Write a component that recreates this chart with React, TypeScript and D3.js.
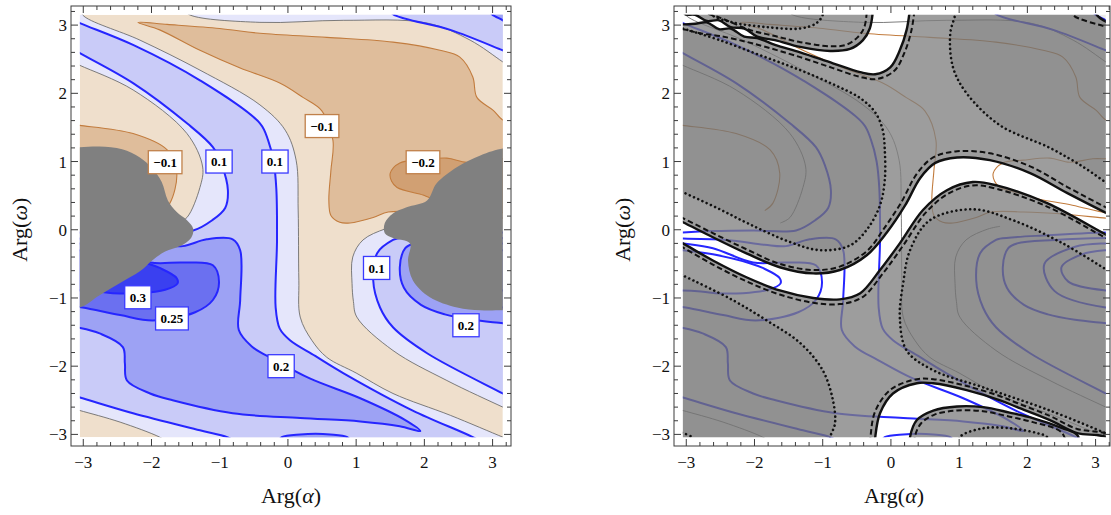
import React from 'react';
import * as d3 from 'd3';

type Pt = [number, number];

// ---------------- axes / ranges ----------------
const X_TICKS = [-3, -2, -1, 0, 1, 2, 3];
const Y_TICKS = [-3, -2, -1, 0, 1, 2, 3];
const DATA_X: Pt = [-3.05, 3.15];
const DATA_Y: Pt = [-3.04, 3.15];
const FRAME_X: Pt = [-3.18, 3.27];
const FRAME_Y: Pt = [-3.17, 3.28];

// ---------------- contour levels & band colours ----------------
const LEVELS = [-0.2, -0.1, 0, 0.1, 0.2, 0.25, 0.3];
const BAND_COLORS = ['#d1a073', '#dfbd9b', '#efdfcc', '#e5e6fb', '#c9cbf8', '#9da2f4', '#6b70f0', '#3a40f0'];

// ---------------- contour lines (Arg α, Arg ω) ----------------
const G1: Pt[] = [[-3.03,3.25],[-3.01,3.15],[-2.17,2.78],[-1.29,2.34],[-0.41,1.83],[-0.04,1.46],[0.12,1.02],[0.15,0.29],[0.16,-0.74],[0.18,-1.28],[0.35,-1.62],[0.57,-1.87],[1.0,-2.1],[1.54,-2.40],[2.38,-2.72],[3.15,-3.04],[3.3,-3.1]];
const B1: Pt[] = [[-3.2,3.1],[-3.05,3.03],[-2.27,2.71],[-1.29,2.19],[-0.41,1.56],[-0.29,1.31],[-0.21,1.0],[-0.17,0.6],[-0.16,-0.15],[-0.18,-1.14],[-0.12,-1.45],[0.03,-1.62],[0.40,-1.85],[0.81,-2.10],[1.83,-2.65],[2.71,-3.04],[2.85,-3.12]];
const B2: Pt[] = [[-3.2,2.68],[-3.05,2.59],[-2.27,2.15],[-1.48,1.56],[-1.10,1.21],[-0.97,0.95],[-0.88,0.58],[-0.92,0.32],[-1.11,0.14],[-1.39,-0.01],[-2.02,-0.01],[-2.61,-0.02],[-3.05,-0.04],[-3.2,-0.05]];
const G2: Pt[] = [[-3.2,2.48],[-3.05,2.41],[-2.27,2.05],[-1.48,1.41],[-1.25,0.92],[-1.29,0.62],[-1.48,0.18],[-1.62,0.1]];
const N1: Pt[] = [[-3.2,1.55],[-3.05,1.53],[-2.27,1.41],[-1.77,1.17],[-1.63,0.83],[-1.73,0.39],[-1.85,0.28]];
const N2: Pt[] = [[3.3,1.6],[3.15,1.61],[3.01,1.75],[2.77,1.94],[2.71,2.24],[2.52,2.53],[2.23,2.63],[1.54,2.75],[0.57,2.82],[-0.41,2.88],[-1.00,2.95],[-1.77,3.01],[-2.20,3.04],[-1.88,2.93],[-1.29,2.63],[-0.70,2.37],[-0.12,2.15],[0.22,1.94],[0.50,1.74],[0.66,1.31],[0.63,0.87],[0.60,0.43],[0.63,0.21],[0.76,0.11],[0.91,0.10],[1.25,0.18],[1.47,0.26],[1.94,0.26],[2.52,0.23],[3.15,0.17],[3.3,0.16]];
const N3: Pt[] = [[3.3,1.04],[3.15,1.04],[2.96,1.04],[2.62,0.99],[2.33,1.05],[1.94,1.02],[1.64,0.98],[1.50,0.83],[1.52,0.71],[1.60,0.62],[1.98,0.51],[2.08,0.47],[2.66,0.36],[3.15,0.25],[3.3,0.24]];
const G3: Pt[] = [[-1.55,3.25],[-1.44,3.15],[-0.41,3.04],[0.81,3.07],[2.04,3.03],[2.67,2.78],[3.15,2.46],[3.3,2.36]];
const B3: Pt[] = [[1.48,3.25],[1.54,3.16],[2.38,2.93],[3.15,2.63],[3.3,2.57]];
const B4: Pt[] = [[2.93,3.25],[2.99,3.16],[3.15,3.07],[3.3,2.98]];
const G4: Pt[] = [[1.6,0.05],[1.42,0.01],[1.10,-0.15],[0.95,-0.40],[0.94,-0.79],[0.96,-1.05],[1.01,-1.28],[1.54,-1.77],[2.33,-2.21],[3.15,-2.60],[3.3,-2.67]];
const B5: Pt[] = [[3.3,-0.04],[3.15,-0.04],[2.3,-0.08],[1.6,-0.13],[1.54,-0.15],[1.31,-0.34],[1.25,-0.74],[1.35,-1.14],[1.54,-1.43],[2.04,-1.81],[3.15,-2.40],[3.3,-2.48]];
const B6: Pt[] = [[3.3,-0.12],[3.15,-0.12],[2.4,-0.15],[1.85,-0.2],[1.72,-0.27],[1.64,-0.55],[1.70,-0.85],[1.95,-1.10],[2.30,-1.24],[2.7,-1.32],[3.15,-1.37],[3.3,-1.39]];
const B7: Pt[] = [[-3.2,-0.18],[-3.05,-0.20],[-2.61,-0.27],[-2.02,-0.48],[-1.54,-0.48],[-1.10,-0.52],[-1.01,-0.77],[-1.10,-1.03],[-1.36,-1.21],[-1.98,-1.33],[-2.46,-1.25],[-3.01,-1.14],[-3.2,-1.12]];
const B8: Pt[] = [[-3.2,-0.13],[-3.05,-0.13],[-2.4,-0.15],[-1.85,-0.22],[-1.54,-0.24],[-1.19,-0.14],[-0.81,-0.14],[-0.70,-0.30],[-0.70,-1.03],[-0.72,-1.47],[-0.53,-1.71],[-0.19,-1.91],[0.32,-2.18],[1.06,-2.47],[1.72,-2.79],[1.94,-2.95],[1.64,-2.88],[1.06,-2.81],[0.18,-2.76],[-0.81,-2.69],[-1.69,-2.50],[-2.02,-2.40],[-2.36,-2.21],[-2.39,-1.96],[-2.42,-1.72],[-2.76,-1.52],[-3.05,-1.44],[-3.2,-1.42]];
const B9: Pt[] = [[-3.2,-0.29],[-3.05,-0.30],[-2.61,-0.36],[-2.07,-0.49],[-1.88,-0.56],[-1.63,-0.71],[-1.62,-0.79],[-1.80,-0.88],[-2.17,-0.93],[-2.57,-0.93],[-2.83,-0.90],[-3.05,-0.89],[-3.2,-0.89]];
const B10: Pt[] = [[-3.2,-2.42],[-3.05,-2.46],[-2.27,-2.69],[-1.29,-2.94],[-0.89,-3.04],[-0.75,-3.12]];
const G5: Pt[] = [[-3.2,-2.61],[-3.05,-2.65],[-2.46,-2.82],[-1.88,-3.04],[-1.75,-3.12]];
const B11: Pt[] = [[-0.15,-3.12],[-0.09,-3.04],[0.18,-3.0],[0.62,-3.0],[0.87,-3.04],[0.93,-3.12]];
const B9R: Pt[] = [[3.3,-0.30],[3.15,-0.30],[2.8,-0.36],[2.5,-0.55],[2.6,-0.76],[3.15,-0.89],[3.3,-0.89]];
const B7R: Pt[] = [[3.3,-0.20],[3.15,-0.20],[2.7,-0.25],[2.25,-0.5],[2.4,-0.9],[3.15,-1.14],[3.3,-1.14]];

const CONTOURS: { level: number; pts: Pt[] }[] = [
  { level: 0, pts: G1 }, { level: 0.1, pts: B1 }, { level: 0.1, pts: B2 }, { level: 0, pts: G2 },
  { level: -0.1, pts: N1 }, { level: -0.1, pts: N2 }, { level: -0.2, pts: N3 }, { level: 0, pts: G3 },
  { level: 0.1, pts: B3 }, { level: 0.2, pts: B4 }, { level: 0, pts: G4 }, { level: 0.1, pts: B5 },
  { level: 0.2, pts: B6 }, { level: 0.25, pts: B7 }, { level: 0.2, pts: B8 }, { level: 0.3, pts: B9 },
  { level: 0.1, pts: B10 }, { level: 0, pts: G5 }, { level: 0.2, pts: B11 },
  { level: 0.3, pts: B9R }, { level: 0.25, pts: B7R },
];

// masked (gray) regions
const BLOB_L: Pt[] = [[-3.3,1.21],[-3.05,1.21],[-2.76,1.22],[-2.43,1.18],[-2.17,1.06],[-1.99,0.90],[-1.85,0.70],[-1.76,0.43],[-1.63,0.26],[-1.48,0.14],[-1.39,0.02],[-1.42,-0.12],[-1.58,-0.24],[-1.80,-0.32],[-1.99,-0.45],[-2.17,-0.61],[-2.46,-0.78],[-2.76,-0.96],[-3.05,-1.14],[-3.3,-1.14]];
const BLOB_R: Pt[] = [[3.3,1.19],[3.15,1.19],[2.82,1.09],[2.48,0.92],[2.18,0.68],[2.04,0.43],[1.74,0.33],[1.54,0.24],[1.42,0.10],[1.42,-0.05],[1.54,-0.12],[1.79,-0.20],[1.76,-0.45],[1.83,-0.74],[2.08,-0.99],[2.48,-1.14],[2.82,-1.18],[3.15,-1.18],[3.3,-1.18]];

// contour labels
const CONTOUR_LABELS = [
  { a: -1.80, w: 0.99, level: -0.1 }, { a: -1.01, w: 1.0, level: 0.1 }, { a: -0.19, w: 1.0, level: 0.1 },
  { a: 0.50, w: 1.52, level: -0.1 }, { a: 1.98, w: 0.99, level: -0.2 }, { a: 1.30, w: -0.56, level: 0.1 },
  { a: -2.20, w: -0.99, level: 0.3 }, { a: -1.70, w: -1.30, level: 0.25 }, { a: -0.10, w: -2.0, level: 0.2 },
  { a: 2.61, w: -1.40, level: 0.2 },
];

// ---------------- right panel curves ----------------
const T_UP: Pt[] = [[-3.02,3.25],[-3.02,3.16],[-2.87,3.15],[-2.70,3.06],[-2.52,3.07],[-2.35,2.97],[-2.15,2.95],[-1.96,2.83],[-1.70,2.78],[-1.33,2.68],[-0.89,2.62],[-0.60,2.65],[-0.41,2.78],[-0.31,2.95],[-0.26,3.25]];
const T_LO: Pt[] = [[-3.2,3.02],[-3.05,3.01],[-2.87,3.02],[-2.70,3.04],[-2.52,2.94],[-2.35,2.95],[-2.15,2.83],[-1.96,2.81],[-1.70,2.71],[-1.33,2.60],[-0.85,2.44],[-0.45,2.31],[-0.23,2.28],[-0.01,2.38],[0.13,2.63],[0.23,2.93],[0.28,3.25]];
const T_UP_DASH: Pt[] = [[-2.80,3.20],[-2.51,3.11],[-2.07,2.93],[-1.70,2.84],[-1.33,2.75],[-0.89,2.69],[-0.66,2.71],[-0.49,2.82],[-0.39,2.97],[-0.35,3.25]];
const T_LO_DASH: Pt[] = [[-3.2,2.95],[-3.05,2.94],[-2.80,2.88],[-2.51,2.84],[-2.02,2.73],[-1.33,2.53],[-0.85,2.37],[-0.45,2.24],[-0.21,2.21],[0.05,2.33],[0.20,2.60],[0.30,2.92],[0.35,3.25]];
const M_UP: Pt[] = [[-3.2,0.18],[-3.05,0.11],[-2.61,-0.11],[-2.11,-0.35],[-1.63,-0.55],[-1.14,-0.64],[-0.75,-0.59],[-0.35,-0.37],[-0.06,-0.04],[0.21,0.36],[0.43,0.76],[0.65,0.98],[0.97,1.06],[1.45,1.02],[2.04,0.83],[2.58,0.54],[3.17,0.24],[3.3,0.18]];
const M_LO: Pt[] = [[-3.2,-0.12],[-3.05,-0.20],[-2.61,-0.45],[-2.11,-0.70],[-1.63,-0.89],[-1.14,-1.00],[-0.75,-1.02],[-0.45,-0.93],[-0.16,-0.59],[0.13,-0.20],[0.47,0.29],[0.82,0.58],[1.20,0.70],[1.55,0.65],[2.29,0.39],[3.17,-0.08],[3.3,-0.14]];
const M_UP_DASH: Pt[] = [[-3.2,0.24],[-3.05,0.17],[-2.61,-0.05],[-2.11,-0.29],[-1.63,-0.50],[-1.14,-0.59],[-0.75,-0.54],[-0.35,-0.31],[-0.10,0.02],[0.15,0.40],[0.38,0.82],[0.62,1.06],[0.97,1.15],[1.45,1.12],[2.04,0.93],[2.58,0.63],[3.17,0.32],[3.3,0.26]];
const M_LO_DASH: Pt[] = [[-3.2,-0.18],[-3.05,-0.26],[-2.61,-0.51],[-2.11,-0.76],[-1.63,-0.95],[-1.14,-1.07],[-0.75,-1.09],[-0.42,-0.99],[-0.11,-0.63],[0.18,-0.23],[0.51,0.25],[0.84,0.53],[1.20,0.65],[1.55,0.60],[2.29,0.34],[3.17,-0.13],[3.3,-0.19]];
const B_OUT: Pt[] = [[-0.24,-3.25],[-0.23,-3.04],[-0.16,-2.69],[0.03,-2.40],[0.38,-2.25],[0.62,-2.25],[1.11,-2.35],[1.60,-2.50],[1.85,-2.60],[2.33,-2.79],[2.73,-2.98],[3.02,-3.01],[3.17,-3.04],[3.3,-3.1]];
const B_IN: Pt[] = [[0.28,-3.25],[0.28,-3.04],[0.38,-2.79],[0.62,-2.65],[0.97,-2.59],[1.35,-2.60],[1.74,-2.68],[2.08,-2.76],[2.52,-2.91],[2.73,-3.01],[2.8,-3.25]];
const B_OUT_DASH: Pt[] = [[-0.31,-3.25],[-0.30,-3.04],[-0.23,-2.66],[0.0,-2.34],[0.38,-2.19],[0.62,-2.19],[1.11,-2.29],[1.60,-2.44],[1.85,-2.54],[2.33,-2.73],[2.73,-2.92],[3.02,-2.96],[3.17,-2.99],[3.3,-3.05]];
const B_IN_DASH: Pt[] = [[0.35,-3.25],[0.35,-3.04],[0.44,-2.84],[0.64,-2.71],[0.97,-2.65],[1.35,-2.66],[1.74,-2.74],[2.08,-2.82],[2.5,-2.97],[2.6,-3.25]];
const TR_SOLID: Pt[] = [[3.02,3.25],[3.02,3.15],[3.17,3.04],[3.3,2.99]];
const TR_DASH: Pt[] = [[2.67,3.25],[2.67,3.15],[3.17,2.97],[3.3,2.92]];
const D1: Pt[] = [[-2.62,3.25],[-2.62,3.15],[-2.32,3.04],[-1.82,2.97],[-1.33,2.95],[-1.09,3.03],[-1.0,3.15],[-1.0,3.25]];
const D2: Pt[] = [[-3.05,2.95],[-2.51,2.78],[-1.92,2.56],[-1.33,2.34],[-0.82,2.12],[-0.45,1.93],[-0.23,1.72],[-0.12,1.46],[-0.09,1.17],[-0.09,0.73],[-0.16,0.36],[-0.34,0.02],[-0.60,-0.23],[-1.04,-0.30],[-1.48,-0.18],[-2.07,0.08],[-2.55,0.32],[-3.05,0.55]];
const D3: Pt[] = [[0.94,3.25],[0.94,3.15],[0.87,2.88],[0.91,2.38],[1.11,2.0],[1.60,1.53],[2.33,1.20],[2.82,0.92],[3.17,0.68],[3.3,0.6]];
const D4: Pt[] = [[-3.2,-0.6],[-3.05,-0.67],[-2.32,-1.03],[-1.82,-1.33],[-1.33,-1.66],[-1.0,-2.06],[-0.85,-2.50],[-0.82,-2.84],[-0.89,-3.04],[-0.9,-3.2]];
const D7: Pt[] = [[3.3,-0.66],[3.17,-0.59],[2.52,-0.20],[1.79,0.14],[1.20,0.30],[0.57,0.14],[0.28,-0.30],[0.18,-0.78],[0.13,-1.28],[0.23,-1.77],[0.62,-2.06],[1.35,-2.31],[2.33,-2.65],[3.17,-2.99],[3.3,-3.04]];
const D8: Pt[] = [[1.0,-3.2],[1.01,-3.04],[1.35,-2.91],[1.74,-2.91],[2.14,-2.98],[2.29,-3.04],[2.3,-3.2]];
const D9: Pt[] = [[-3.2,-2.95],[-3.05,-2.98],[-2.92,-3.04],[-2.9,-3.1]];

// ---------------- helpers ----------------
type Part = { kind: 'c'; p: Pt } | { kind: 'l'; pts: Pt[]; rev: boolean };
const C = (a: number, w: number): Part => ({ kind: 'c', p: [a, w] });
const L = (pts: Pt[]): Part => ({ kind: 'l', pts, rev: false });
const R = (pts: Pt[]): Part => ({ kind: 'l', pts, rev: true });

// band index: 0 (< -0.2) ... 7 (> 0.3)
const FILLS: { band: number; parts: Part[] }[] = [
  { band: 1, parts: [L(N1), C(-3.4, 0.28), C(-3.4, 1.55)] },
  { band: 1, parts: [L(N2), C(3.4, 0.16), C(3.4, 1.6)] },
  { band: 0, parts: [L(N3), C(3.4, 0.24), C(3.4, 1.04)] },
  { band: 3, parts: [C(-3.4, 3.4), L(G1), C(3.4, -3.4), R(G5), C(-3.4, -2.61), C(-3.4, 0.1), R(G2), C(-3.4, 2.48)] },
  { band: 3, parts: [L(G4), C(3.4, -2.67), C(3.4, 0.05)] },
  { band: 3, parts: [L(G3), C(3.4, 2.36), C(3.4, 3.4), C(-1.55, 3.4)] },
  { band: 4, parts: [C(-3.4, 3.1), L(B1), C(2.85, -3.4), C(-0.75, -3.4), R(B10), C(-3.4, -2.42), C(-3.4, -0.05), R(B2), C(-3.4, 2.68)] },
  { band: 4, parts: [L(B5), C(3.4, -2.48), C(3.4, -0.04)] },
  { band: 4, parts: [C(1.48, 3.4), L(B3), C(3.4, 2.57), C(3.4, 3.4)] },
  { band: 5, parts: [L(B8), C(-3.4, -1.42), C(-3.4, -0.13)] },
  { band: 5, parts: [L(B6), C(3.4, -1.39), C(3.4, -0.12)] },
  { band: 5, parts: [L(B11)] },
  { band: 5, parts: [L(B4), C(3.4, 3.4)] },
  { band: 6, parts: [L(B7), C(-3.4, -1.12), C(-3.4, -0.18)] },
  { band: 7, parts: [L(B9), C(-3.4, -0.89), C(-3.4, -0.29)] },
];

const WHITE_REGIONS: Part[][] = [
  [L(T_UP), R(T_LO), C(-3.4, 3.02), C(-3.4, 3.3)],
  [L(M_UP), R(M_LO)],
  [L(B_OUT), R(B_IN)],
  [L(TR_SOLID), C(3.4, 3.4)],
];
const DARK_REGIONS: Part[][] = [
  [L(D1)],
  [L(D2), C(-3.4, 0.55), C(-3.4, 2.95)],
  [L(D3), C(3.4, 0.6), C(3.4, 3.4)],
  [L(D4), C(-3.4, -3.4), C(-3.4, -0.6)],
  [L(D7), C(3.4, -3.04), C(3.4, -0.66)],
  [L(D8)],
];
const SOLID = [T_UP, T_LO, M_UP, M_LO, B_OUT, B_IN, TR_SOLID];
const DASHED = [T_UP_DASH, T_LO_DASH, M_UP_DASH, M_LO_DASH, B_OUT_DASH, B_IN_DASH, TR_DASH];
const DOTTED = [D1, D2, D3, D4, D7, D8, D9];

const fmtLevel = (v: number) => (v < 0 ? '\u2212' : '') + String(Math.abs(v));
const textWidth = (s: string) => {
  let w = 0;
  for (const ch of s) w += ch === '.' ? 3.25 : ch === '\u2212' ? 7.4 : 6.5;
  return w;
};
const lineStyle = (lv: number) =>
  lv > 0 ? { stroke: '#2626ff', width: 2 } : lv < 0 ? { stroke: '#c27c3e', width: 1.1 } : { stroke: '#6e6e6e', width: 0.9 };

function Panel({ left, frameRight, mode, id }: { left: number; frameRight: number; mode: 'left' | 'right'; id: string }) {
  const x = d3.scaleLinear().domain(FRAME_X).range([left, left + 440]);
  const y = d3.scaleLinear().domain(FRAME_Y).range([446, 6]);
  const smooth = d3.line<Pt>().x(d => x(d[0])).y(d => y(d[1])).curve(d3.curveCatmullRom.alpha(0.5));
  const ring = (parts: Part[]) => {
    let d = '';
    for (const part of parts) {
      if (part.kind === 'c') {
        d += (d ? 'L' : 'M') + x(part.p[0]) + ',' + y(part.p[1]);
      } else {
        const pts = part.rev ? [...part.pts].reverse() : part.pts;
        const s = smooth(pts) || '';
        d += d ? 'L' + s.slice(1) : s;
      }
    }
    return d + 'Z';
  };
  const cx0 = x(DATA_X[0]), cx1 = x(DATA_X[1]), cy0 = y(DATA_Y[1]), cy1 = y(DATA_Y[0]);
  const fTop = y(FRAME_Y[1]), fBot = y(FRAME_Y[0]), fLeft = left, fRight = frameRight;
  const minor = d3.range(-16, 17).map(i => Math.round(i * 2) / 10).filter(v => Math.abs(v - Math.round(v)) > 1e-6);
  const clip = `clip-${id}`;
  const frameColor = '#3c3c3c';

  const xt = [...X_TICKS.map(v => ({ v, major: true })), ...minor.map(v => ({ v, major: false }))].filter(t => x(t.v) > fLeft + 0.5 && x(t.v) < fRight - 0.5);
  const yt = [...Y_TICKS.map(v => ({ v, major: true })), ...minor.map(v => ({ v, major: false }))].filter(t => y(t.v) > fTop + 0.5 && y(t.v) < fBot - 0.5);

  const contourPaths = CONTOURS.map((c, i) => {
    const st = lineStyle(c.level);
    return <path key={'c' + i} d={smooth(c.pts) || ''} fill="none" stroke={st.stroke} strokeWidth={st.width} strokeLinejoin="round" />;
  });

  const overlayD =
    `M${cx0 - 5},${cy0 - 5}H${cx1 + 5}V${cy1 + 5}H${cx0 - 5}Z` + WHITE_REGIONS.map(ring).join('');

  return (
    <g>
      <defs>
        <clipPath id={clip}>
          <rect x={cx0} y={cy0} width={cx1 - cx0} height={cy1 - cy0} />
        </clipPath>
      </defs>
      <g clipPath={`url(#${clip})`}>
        {mode === 'left' ? (
          <>
            <rect x={cx0} y={cy0} width={cx1 - cx0} height={cy1 - cy0} fill={BAND_COLORS[2]} />
            {FILLS.map((f, i) => (
              <path key={'f' + i} d={ring(f.parts)} fill={BAND_COLORS[f.band]} stroke="none" />
            ))}
            {contourPaths}
            <path d={ring([L(BLOB_L)])} fill="#808080" />
            <path d={ring([L(BLOB_R)])} fill="#808080" />
          </>
        ) : (
          <>
            <rect x={cx0} y={cy0} width={cx1 - cx0} height={cy1 - cy0} fill="#fff" />
            {contourPaths}
            <path d={overlayD} fill="#808080" fillOpacity={0.77} fillRule="evenodd" />
            {DARK_REGIONS.map((r, i) => (
              <path key={'dk' + i} d={ring(r)} fill="#000" fillOpacity={0.075} />
            ))}
            {SOLID.map((p, i) => (
              <path key={'s' + i} d={smooth(p) || ''} fill="none" stroke="#111" strokeWidth={2.4} strokeLinejoin="round" />
            ))}
            {DASHED.map((p, i) => (
              <path key={'da' + i} d={smooth(p) || ''} fill="none" stroke="#111" strokeWidth={2} strokeDasharray="5.5 3" />
            ))}
            {DOTTED.map((p, i) => (
              <path key={'do' + i} d={smooth(p) || ''} fill="none" stroke="#111" strokeWidth={2.6} strokeDasharray="0.01 4.6" strokeLinecap="round" />
            ))}
          </>
        )}
      </g>
      {mode === 'left' &&
        CONTOUR_LABELS.map((lb, i) => {
          const s = fmtLevel(lb.level);
          const w = textWidth(s) + 10;
          const h = 23;
          const px = x(lb.a), py = y(lb.w);
          return (
            <g key={'lb' + i}>
              <rect x={px - w / 2} y={py - h / 2} width={w} height={h} fill="#fff" stroke={lb.level > 0 ? '#3a3aff' : '#c0804a'} strokeWidth={1.3} />
              <text x={px} y={py + 4.6} textAnchor="middle" fontSize={13} fontWeight="bold" fill="#000">{s}</text>
            </g>
          );
        })}
      {/* frame */}
      <rect x={fLeft} y={fTop} width={fRight - fLeft} height={fBot - fTop} fill="none" stroke={frameColor} strokeWidth={1} />
      {xt.map((t, i) => {
        const len = t.major ? 7 : 4;
        const px = x(t.v);
        return (
          <g key={'xt' + i}>
            <line x1={px} x2={px} y1={fBot} y2={fBot - len} stroke={frameColor} strokeWidth={1} />
            <line x1={px} x2={px} y1={fTop} y2={fTop + len} stroke={frameColor} strokeWidth={1} />
          </g>
        );
      })}
      {yt.map((t, i) => {
        const len = t.major ? 7 : 4;
        const py = y(t.v);
        return (
          <g key={'yt' + i}>
            <line x1={fLeft} x2={fLeft + len} y1={py} y2={py} stroke={frameColor} strokeWidth={1} />
            <line x1={fRight} x2={fRight - len} y1={py} y2={py} stroke={frameColor} strokeWidth={1} />
          </g>
        );
      })}
      {X_TICKS.map(v => (
        <text key={'xl' + v} x={x(v)} y={fBot + 22} textAnchor="middle" fontSize={17} fill="#111">{fmtLevel(v)}</text>
      ))}
      {Y_TICKS.map(v => (
        <text key={'yl' + v} x={fLeft - 4} y={y(v) + 6} textAnchor="end" fontSize={17} fill="#111">{fmtLevel(v)}</text>
      ))}
      <text x={left + 220} y={503} textAnchor="middle" fontSize={22} fill="#111">
        Arg(<tspan fontStyle="italic">α</tspan>)
      </text>
      <text transform={`translate(${left - 44},${y(0)}) rotate(-90)`} textAnchor="middle" fontSize={22} fill="#111">
        Arg(<tspan fontStyle="italic">ω</tspan>)
      </text>
    </g>
  );
}

export default function App() {
  return (
    <div style={{ position: 'absolute', left: 0, top: 0 }}>
      <svg width={1111} height={515} style={{ display: 'block', background: '#fff' }} fontFamily="'Liberation Serif','Times New Roman',serif">
        <Panel left={71} frameRight={511} mode="left" id="L" />
        <Panel left={674} frameRight={1110} mode="right" id="R" />
      </svg>
    </div>
  );
}
